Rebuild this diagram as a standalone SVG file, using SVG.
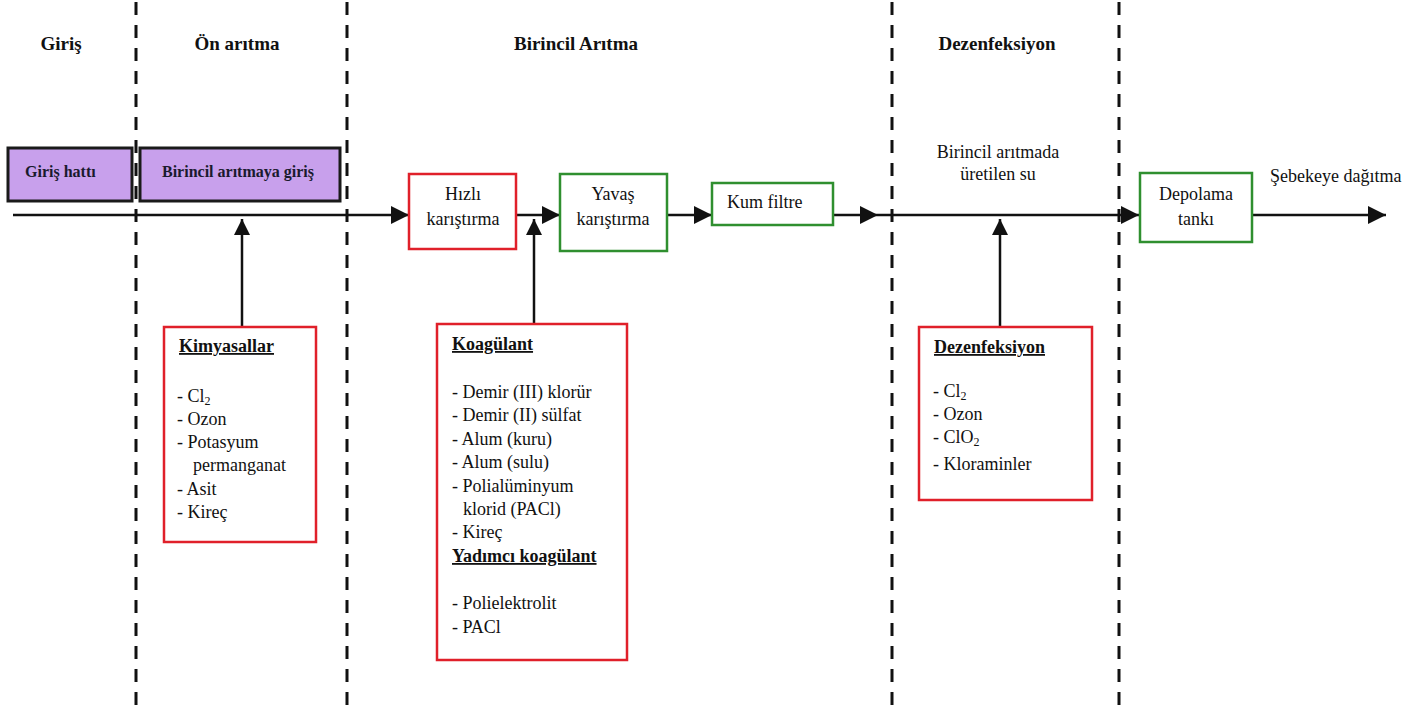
<svg xmlns="http://www.w3.org/2000/svg" width="1420" height="713" viewBox="0 0 1420 713" font-family="'Liberation Serif', Tinos, 'Noto Serif', 'DejaVu Serif', serif">
  <style>
    text { font-family: "Liberation Serif", Tinos, "Noto Serif", "DejaVu Serif", serif; fill: #111; }
    .hdr { font-size: 19px; font-weight: bold; text-anchor: middle; }
    .lbl { font-size: 18px; }
    .mid { text-anchor: middle; }
    .bold { font-weight: bold; }
    .ul { text-decoration: underline; }
    .ptext { font-size: 16px; font-weight: bold; fill: #1a1a2e; }
    .divider { stroke: #111; stroke-width: 3; stroke-dasharray: 13 10; fill: none; }
    .purple { fill: #c8a0ec; stroke: #1a1a1a; stroke-width: 3; }
    .red { fill: #fff; stroke: #e0202a; stroke-width: 2.5; }
    .green { fill: #fff; stroke: #2f8f2f; stroke-width: 2.5; }
    .flow { stroke: #111; stroke-width: 2.5; fill: none; }
    .head { fill: #111; }
  </style>
  <defs>
    <marker id="arrow" viewBox="0 0 18 18" refX="18" refY="9" markerWidth="18" markerHeight="18" markerUnits="userSpaceOnUse" orient="auto">
      <path d="M0,0 L18,9 L0,18 Z" fill="#111"/>
    </marker>
    <marker id="arrowUp" viewBox="0 0 16 18" refX="16" refY="8" markerWidth="16" markerHeight="18" markerUnits="userSpaceOnUse" orient="auto">
      <path d="M0,0 L16,8 L0,16 Z" fill="#111"/>
    </marker>
  </defs>

  <rect width="1420" height="713" fill="#fff"/>

  <!-- stage dividers -->
  <g id="dividers">
    <line class="divider" x1="136" y1="2" x2="136" y2="713"/>
    <line class="divider" x1="347" y1="2" x2="347" y2="713"/>
    <line class="divider" x1="892" y1="2" x2="892" y2="713"/>
    <line class="divider" x1="1119" y1="2" x2="1119" y2="713"/>
  </g>

  <!-- stage headings -->
  <g id="headings">
    <text class="hdr" x="61" y="50">Giriş</text>
    <text class="hdr" x="237" y="50">Ön arıtma</text>
    <text class="hdr" x="576" y="50">Birincil Arıtma</text>
    <text class="hdr" x="997" y="50">Dezenfeksiyon</text>
  </g>

  <!-- connectors -->
  <g id="connectors">
    <line class="flow" x1="13" y1="215" x2="409" y2="215" marker-end="url(#arrow)"/>
    <line class="flow" x1="516" y1="215" x2="560" y2="215" marker-end="url(#arrow)"/>
    <line class="flow" x1="667" y1="215" x2="712" y2="215" marker-end="url(#arrow)"/>
    <line class="flow" x1="833" y1="215" x2="1139" y2="215" marker-end="url(#arrow)"/>
    <path class="head" d="M860,206 L878,215 L860,224 Z"/>
    <line class="flow" x1="1252" y1="215" x2="1386" y2="215" marker-end="url(#arrow)"/>
    <line class="flow" x1="242" y1="327" x2="242" y2="219" marker-end="url(#arrowUp)"/>
    <line class="flow" x1="534" y1="324" x2="534" y2="219" marker-end="url(#arrowUp)"/>
    <line class="flow" x1="1000" y1="327" x2="1000" y2="219" marker-end="url(#arrowUp)"/>
  </g>

  <g id="giris-hatti">
    <rect class="purple" x="8" y="148" width="124" height="53"/>
    <text class="ptext" x="25" y="177">Giriş hattı</text>
  </g>

  <g id="birincil-aritmaya-giris">
    <rect class="purple" x="140" y="148" width="200" height="53"/>
    <text class="ptext" x="162" y="177">Birincil arıtmaya giriş</text>
  </g>

  <g id="hizli-karistirma">
    <rect class="red" x="409" y="174" width="107" height="75"/>
    <text class="lbl mid" x="463" y="200">Hızlı</text>
    <text class="lbl mid" x="463" y="225">karıştırma</text>
  </g>

  <g id="yavas-karistirma">
    <rect class="green" x="560" y="174" width="107" height="77"/>
    <text class="lbl mid" x="613" y="200">Yavaş</text>
    <text class="lbl mid" x="613" y="225">karıştırma</text>
  </g>

  <g id="kum-filtre">
    <rect class="green" x="712" y="183" width="121" height="42"/>
    <text class="lbl" x="727" y="208">Kum filtre</text>
  </g>

  <g id="uretilen-su">
    <text class="lbl mid" x="998" y="158">Birincil arıtmada</text>
    <text class="lbl mid" x="998" y="180">üretilen su</text>
  </g>

  <g id="depolama-tanki">
    <rect class="green" x="1140" y="173" width="112" height="69"/>
    <text class="lbl mid" x="1196" y="200">Depolama</text>
    <text class="lbl mid" x="1196" y="225">tankı</text>
  </g>

  <g id="sebekeye-dagitma">
    <text class="lbl" x="1270" y="182">Şebekeye dağıtma</text>
  </g>

  <g id="kimyasallar">
    <rect class="red" x="164" y="327" width="152" height="215"/>
    <text class="lbl bold ul" x="179" y="352">Kimyasallar</text>
    <text class="lbl" x="177" y="402">- Cl<tspan font-size="12" dy="3">2</tspan></text>
    <text class="lbl" x="177" y="425">- Ozon</text>
    <text class="lbl" x="177" y="448">- Potasyum</text>
    <text class="lbl" x="193" y="471">permanganat</text>
    <text class="lbl" x="177" y="495">- Asit</text>
    <text class="lbl" x="177" y="518">- Kireç</text>
  </g>

  <g id="koagulant">
    <rect class="red" x="437" y="324" width="190" height="336"/>
    <text class="lbl bold ul" x="452" y="350">Koagülant</text>
    <text class="lbl" x="452" y="398">- Demir (III) klorür</text>
    <text class="lbl" x="452" y="421">- Demir (II) sülfat</text>
    <text class="lbl" x="452" y="445">- Alum (kuru)</text>
    <text class="lbl" x="452" y="468">- Alum (sulu)</text>
    <text class="lbl" x="452" y="492">- Polialüminyum</text>
    <text class="lbl" x="463" y="515">klorid (PACl)</text>
    <text class="lbl" x="452" y="538">- Kireç</text>
    <text class="lbl bold ul" x="452" y="562">Yadımcı koagülant</text>
    <text class="lbl" x="452" y="609">- Polielektrolit</text>
    <text class="lbl" x="452" y="633">- PACl</text>
  </g>

  <g id="dezenfeksiyon">
    <rect class="red" x="919" y="327" width="173" height="173"/>
    <text class="lbl bold ul" x="934" y="353">Dezenfeksiyon</text>
    <text class="lbl" x="933" y="397">- Cl<tspan font-size="12" dy="3">2</tspan></text>
    <text class="lbl" x="933" y="420">- Ozon</text>
    <text class="lbl" x="933" y="443">- ClO<tspan font-size="12" dy="3">2</tspan></text>
    <text class="lbl" x="933" y="470">- Kloraminler</text>
  </g>
</svg>
